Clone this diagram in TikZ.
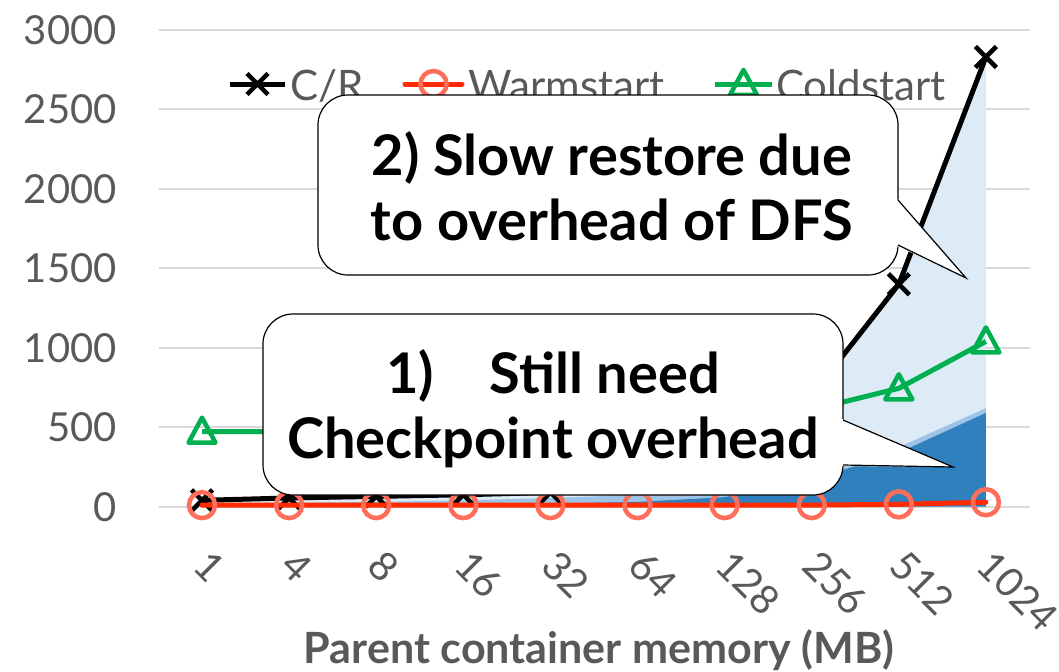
\documentclass[tikz,border=0pt]{standalone}
\usepackage{fontspec}
\setmainfont{Lato}
\definecolor{txtgray}{HTML}{595959}
\definecolor{gridgray}{HTML}{D9D9D9}
\definecolor{areaL}{HTML}{DDEBF7}
\definecolor{areaM}{HTML}{9DC3E6}
\definecolor{areaD}{HTML}{3080BD}
\definecolor{warmred}{HTML}{FF2A00}
\definecolor{warmcoral}{HTML}{FF6E5A}
\definecolor{coldgreen}{HTML}{00B050}
\tikzset{
  gridline/.style={draw=gridgray, line width=1.5pt},
  axlab/.style={text=txtgray, font=\fontsize{30}{36}\selectfont, inner sep=0pt},
  leglab/.style={text=txtgray, font=\fontsize{31.5}{36}\selectfont, inner sep=0pt, anchor=base west},
  crline/.style={draw=black, line width=3.75pt, line join=round},
  warmline/.style={draw=warmred, line width=3.75pt, line join=round, line cap=round},
  coldline/.style={draw=coldgreen, line width=3.75pt, line join=round},
  xmk/.style={draw=black, line width=3.4pt},
  omk/.style={draw=warmcoral, line width=3.4pt},
  tmk/.style={draw=coldgreen, line width=3.4pt, line join=round},
  callbox/.style={draw=black, fill=white, line width=0.9pt, rounded corners=22.5pt},
  calltext/.style={font=\fontsize{42}{50}\selectfont\bfseries, inner sep=0pt, anchor=base},
}
\begin{document}
\begin{tikzpicture}[x=0.75pt,y=-0.75pt]
\useasboundingbox (0,0) rectangle (1059,671);
% gridlines and y labels
\foreach \v in {0,500,...,3000}{
  \draw[gridline] (158.5,{506.7-0.1589*\v}) -- (1029.5,{506.7-0.1589*\v});
  \node[axlab, anchor=east] (yl\v) at (117,{506.7-0.1589*\v}) {\v};
}
% x labels
\foreach \l [count=\i from 0] in {1,4,8,16,32,64,128,256,512,1024}{
  \node[axlab, anchor=west, rotate=-45] (xl\i) at ({201+87.1*\i},558) {\l};
}
\node[text=txtgray, font=\fontsize{32.3}{36}\selectfont\bfseries, inner sep=0pt, anchor=base] (xtitle) at (599,663) {Parent container memory (MB)};
% data coordinates
\foreach \v [count=\i from 0] in {40,55,65,75,90,150,300,700,1400,2830}
  \coordinate (cr\i) at ({202+87.1*\i},{506.7-0.1589*\v});
\foreach \v [count=\i from 0] in {10,10,10,10,10,10,10,10,15,28}
  \coordinate (wm\i) at ({202+87.1*\i},{506.7-0.1589*\v});
\foreach \v [count=\i from 0] in {472,472,478,485,495,515,550,610,745,1040}
  \coordinate (cd\i) at ({202+87.1*\i},{506.7-0.1589*\v});
\foreach \v [count=\i from 0] in {15,25,30,40,55,75,110,200,375,620}
  \coordinate (am\i) at ({202+87.1*\i},{506.7-0.1589*\v});
\foreach \v [count=\i from 0] in {3,6,10,15,20,30,60,170,340,590}
  \coordinate (ad\i) at ({202+87.1*\i},{506.7-0.1589*\v});
% areas
\fill[areaL] (202,506.7) \foreach \i in {0,...,9}{-- (cr\i)} -- (985.9,506.7) -- cycle;
\fill[areaM] (202,506.7) \foreach \i in {0,...,9}{-- (am\i)} -- (985.9,506.7) -- cycle;
\fill[areaD] (202,506.7) \foreach \i in {0,...,9}{-- (ad\i)} -- (985.9,506.7) -- cycle;
% C/R
\draw[crline] (cr0) \foreach \i in {1,...,9}{-- (cr\i)};
\foreach \i in {0,...,9}
  \draw[xmk] (cr\i) +(-10.5,-10.5) -- +(10.5,10.5) (cr\i) +(-10.5,10.5) -- +(10.5,-10.5);
% Warmstart
\draw[warmline] (wm0) \foreach \i in {1,...,9}{-- (wm\i)};
\foreach \i in {0,...,9}
  \draw[omk] (wm\i) circle[radius=9.75pt];
% Coldstart
\draw[coldline] (cd0) \foreach \i in {1,...,9}{-- (cd\i)};
\foreach \i in {0,...,9}
  \draw[tmk] (cd\i) +(0,-14) -- +(13.5,11) -- +(-13.5,11) -- cycle;
% legend
\coordinate (lg1) at (257.5,84);
\coordinate (lg2) at (433.5,84);
\coordinate (lg3) at (743.5,84);
\draw[crline] (lg1) +(-27.5,0) -- +(27.5,0);
\draw[xmk] (lg1) +(-10.5,-10.5) -- +(10.5,10.5) (lg1) +(-10.5,10.5) -- +(10.5,-10.5);
\node[leglab] (lt1) at (290,100) {C/R};
\draw[warmline] (lg2) +(-28.5,0) -- +(28.5,0);
\draw[omk] (lg2) circle[radius=9.75pt];
\node[leglab] (lt2) at (468,100) {Warmstart};
\draw[coldline] (lg3) +(-28.5,0) -- +(28.5,0);
\draw[tmk] (lg3) +(0,-14) -- +(13.5,11) -- +(-13.5,11) -- cycle;
\node[leglab] (lt3) at (776,100) {Coldstart};
% callout 2
\draw[callbox] (318,95) rectangle (898,275);
\fill[white] (897,199) -- (966,278) -- (897,246) -- cycle;
\draw[line width=0.9pt, line join=miter] (898,200) -- (966,278) -- (898,245);
\node[calltext] (c2a) at (612,175) {2) Slow restore due};
\node[calltext] (c2b) at (612,240) {to overhead of DFS};
% callout 1
\draw[callbox] (263,314) rectangle (843,495);
\fill[white] (842,419) -- (953,467) -- (842,466) -- cycle;
\draw[line width=0.9pt, line join=miter] (843,420) -- (953,467) -- (843,465);
\node[calltext] (c1a) at (553,393) {1)\hspace{1em}Still need};
\node[calltext] (c1b) at (553,458) {Checkpoint overhead};
\end{tikzpicture}
\end{document}
